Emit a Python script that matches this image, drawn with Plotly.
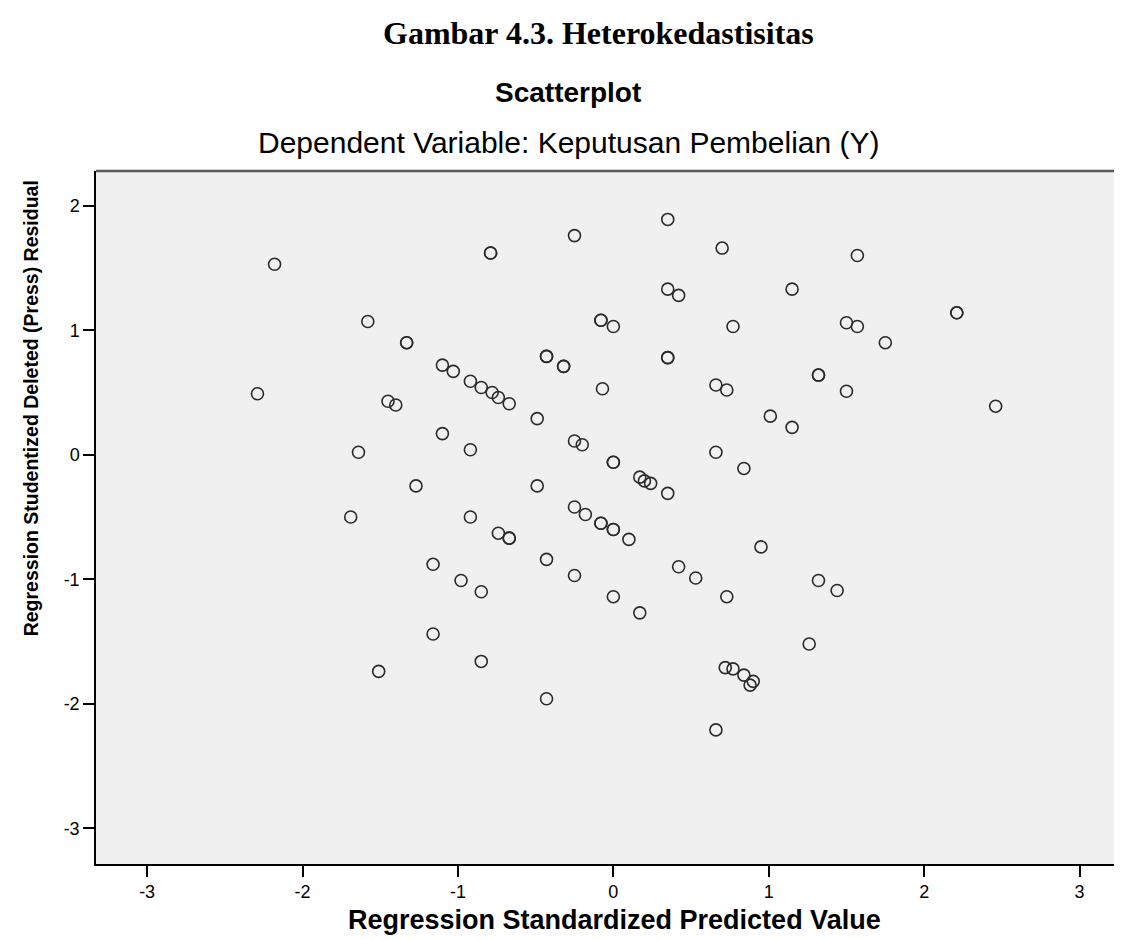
import plotly.graph_objects as go

# Regression Standardized Predicted Value (x) and Studentized Deleted Residual (y)
pred_value = [
    -2.18, -1.58, -1.33, -1.33, -2.29, -1.45, -1.40, -1.64, -1.27, -1.69,
    -1.51, -1.16, -1.16,
    0.35, -0.25, -0.79, -0.79, 0.70, 0.35, 0.42, -0.08, -0.08, 0.00, 0.77,
    -0.43, -0.43, -0.32, -0.32, 0.35, 0.35, -1.10, -1.03, -0.92, -0.85,
    -0.78, -0.74, -0.67, -0.07, 0.66, 0.73, 1.01, -0.49, -1.10, -0.92,
    -0.25, -0.20, 0.00, 0.00, 0.66, 0.84, 0.17, 0.20, 0.24, 0.35, -0.49,
    -0.92, -0.25, -0.18, -0.08, -0.08, 0.00, 0.00, 0.10, -0.74, -0.67,
    -0.67, -0.98, -0.85, -0.43, -0.25, 0.00, 0.17, 0.42, 0.53, 0.73, 0.95,
    -0.85, -0.43, 0.72, 0.77, 0.84, 0.90, 0.88, 0.66,
    1.57, 1.15, 2.21, 2.21, 1.50, 1.57, 1.75, 1.32, 1.32, 1.50, 2.46,
    1.15, 1.32, 1.44, 1.26,
]
resid_value = [
    1.53, 1.07, 0.90, 0.90, 0.49, 0.43, 0.40, 0.02, -0.25, -0.50,
    -1.74, -0.88, -1.44,
    1.89, 1.76, 1.62, 1.62, 1.66, 1.33, 1.28, 1.08, 1.08, 1.03, 1.03,
    0.79, 0.79, 0.71, 0.71, 0.78, 0.78, 0.72, 0.67, 0.59, 0.54,
    0.50, 0.46, 0.41, 0.53, 0.56, 0.52, 0.31, 0.29, 0.17, 0.04,
    0.11, 0.08, -0.06, -0.06, 0.02, -0.11, -0.18, -0.21, -0.23, -0.31, -0.25,
    -0.50, -0.42, -0.48, -0.55, -0.55, -0.60, -0.60, -0.68, -0.63, -0.67,
    -0.67, -1.01, -1.10, -0.84, -0.97, -1.14, -1.27, -0.90, -0.99, -1.14, -0.74,
    -1.66, -1.96, -1.71, -1.72, -1.77, -1.82, -1.85, -2.21,
    1.60, 1.33, 1.14, 1.14, 1.06, 1.03, 0.90, 0.64, 0.64, 0.51, 0.39,
    0.22, -1.01, -1.09, -1.52,
]

tick_vals = [-3, -2, -1, 0, 1, 2, 3]
tick_text = ["-3", "-2", "-1", "0", "1", "2", "3"]

main_title = "Gambar 4.3. Heterokedastisitas"
chart_title = "Scatterplot"
subtitle = "Dependent Variable: Keputusan Pembelian (Y)"
x_title = "Regression Standardized Predicted Value"
y_title = "Regression Studentized Deleted (Press) Residual"

fig = go.Figure()
fig.add_trace(go.Scatter(
    x=pred_value, y=resid_value, mode="markers",
    marker=dict(symbol="circle-open", size=12, color="#2a2a2a",
                line=dict(width=1.6, color="#2a2a2a")),
    showlegend=False, hoverinfo="x+y",
))

sans = "Liberation Sans, Arial, sans-serif"
serif = "Liberation Serif, Times New Roman, serif"

fig.update_layout(
    width=1122, height=940,
    margin=dict(l=88, r=1, t=163, b=84),
    paper_bgcolor="white",
    plot_bgcolor="#F0F0F0",
    font=dict(family=sans, color="black"),
    xaxis=dict(
        range=[-3.329, 3.318], tickvals=tick_vals, ticktext=tick_text,
        showgrid=False, zeroline=False, showline=True, linecolor="black",
        linewidth=1.5, ticks="outside", ticklen=11, tickwidth=1.5,
        tickcolor="black", tickfont=dict(size=18, family=sans, color="black"),
    ),
    yaxis=dict(
        range=[-3.287, 2.279], tickvals=tick_vals, ticktext=tick_text,
        showgrid=False, zeroline=False, showline=True, linecolor="black",
        linewidth=1.5, ticks="outside", ticklen=11, tickwidth=1.5,
        tickcolor="black", tickfont=dict(size=18, family=sans, color="black"),
    ),
    annotations=[
        dict(text="<b>" + main_title + "</b>", xref="paper", yref="paper",
             x=(590.5 - 88) / 1033, y=1.1993, xanchor="center", yanchor="middle",
             showarrow=False, font=dict(family=serif, size=32, color="black")),
        dict(text="<b>" + chart_title + "</b>", xref="paper", yref="paper",
             x=(560 - 88) / 1033, y=1.1132, xanchor="center", yanchor="middle",
             showarrow=False, font=dict(family=sans, size=28, color="black")),
        dict(text=subtitle, xref="paper", yref="paper",
             x=(560.5 - 88) / 1033, y=1.0418, xanchor="center", yanchor="middle",
             showarrow=False, font=dict(family=sans, size=30, color="black")),
        dict(text="<b>" + x_title + "</b>", xref="paper", yref="paper",
             x=(606 - 88) / 1033, y=(856 - 912) / 693.5, xanchor="center",
             yanchor="middle", showarrow=False,
             font=dict(family=sans, size=27, color="black")),
        dict(text="<b>" + y_title + "</b>", xref="paper", yref="paper",
             x=(23 - 88) / 1033, y=(856 - 400) / 693.5, xanchor="center",
             yanchor="middle", textangle=-90, showarrow=False,
             font=dict(family=sans, size=19.5, color="black")),
    ],
    shapes=[
        dict(type="line", xref="paper", yref="paper", x0=0, x1=1, y0=1, y1=1,
             line=dict(color="#5a5a5a", width=2.5)),
        dict(type="line", xref="paper", yref="paper", x0=1, x1=1, y0=0, y1=1,
             line=dict(color="#c8c8c8", width=1)),
    ],
)

fig.write_html("out.html")
